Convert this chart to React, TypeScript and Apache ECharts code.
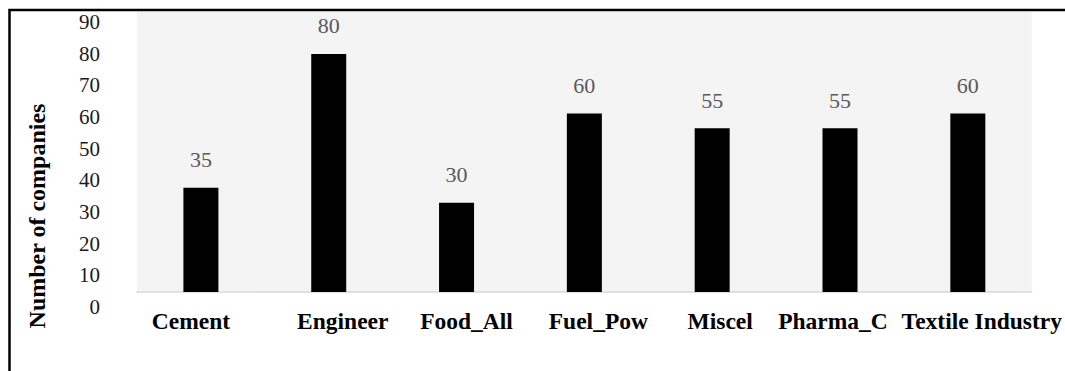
import React, { useEffect, useRef } from "react";
import * as echarts from "echarts";

// Number of companies per sector
const categories = ["Cement", "Engineer", "Food_All", "Fuel_Pow", "Miscel", "Pharma_C", "Textile Industry"];
const companies = [35, 80, 30, 60, 55, 55, 60];
const tickMin = 0;
const tickMax = 90;
const tickStep = 10;

// horizontal nudge (px) for each category label under its bar
const labelShift = [-10, 14, 10, 14, 8, -7, 14];

const SERIF = "Liberation Serif";

export default function App() {
  const ref = useRef<HTMLDivElement>(null);

  useEffect(() => {
    if (!ref.current) return;
    const chart = echarts.init(ref.current, undefined, { renderer: "svg" });

    const rich: Record<string, any> = {};
    labelShift.forEach((d, i) => {
      rich["s" + i] = {
        fontFamily: SERIF,
        fontWeight: "bold",
        fontSize: 23.5,
        color: "#000",
        padding: d >= 0 ? [0, 0, 0, 2 * d] : [0, -2 * d, 0, 0],
      };
    });

    chart.setOption({
      animation: false,
      backgroundColor: "#fff",
      textStyle: { fontFamily: SERIF },
      grid: [
        // plot area holding the bars
        {
          left: 137,
          top: 12,
          width: 895,
          height: 280,
          show: true,
          backgroundColor: "#f4f4f4",
          borderWidth: 0,
        },
        // value scale with its tick labels
        { left: 137, top: 22, width: 895, height: 285 },
      ],
      xAxis: [
        {
          type: "category",
          gridIndex: 0,
          data: categories,
          axisLine: { show: true, lineStyle: { color: "#d9d9d9", width: 1.5 } },
          axisTick: { show: false },
          axisLabel: {
            interval: 0,
            margin: 17,
            fontFamily: SERIF,
            formatter: (v: string, i: number) => `{s${i}|${v}}`,
            rich,
          },
        },
        { type: "value", gridIndex: 1, show: false, min: 0, max: 1 },
      ],
      yAxis: [
        {
          type: "value",
          gridIndex: 0,
          min: 0,
          max: 94.1,
          show: false,
          splitLine: { show: false },
        },
        {
          type: "value",
          gridIndex: 1,
          min: tickMin,
          max: tickMax,
          interval: tickStep,
          axisLine: { show: false },
          axisTick: { show: false },
          splitLine: { show: false },
          axisLabel: {
            margin: 37,
            fontFamily: SERIF,
            fontSize: 21,
            color: "#1a1a1a",
          },
        },
      ],
      series: [
        {
          type: "bar",
          xAxisIndex: 0,
          yAxisIndex: 0,
          data: companies,
          barWidth: 35,
          itemStyle: { color: "#000" },
          label: {
            show: true,
            position: "top",
            distance: 17,
            fontFamily: SERIF,
            fontSize: 22,
            color: "#595959",
          },
        },
      ],
      graphic: [
        {
          type: "text",
          x: 37,
          y: 216,
          rotation: Math.PI / 2,
          style: {
            text: "Number of companies",
            fontFamily: SERIF,
            fontWeight: "bold",
            fontSize: 24,
            fill: "#000",
            align: "center",
            verticalAlign: "middle",
          },
        },
        {
          type: "rect",
          shape: { x: 9.5, y: 10, width: 1200, height: 500 },
          style: { fill: "none", stroke: "#000", lineWidth: 2.5 },
          silent: true,
        },
      ],
    });

    return () => chart.dispose();
  }, []);

  return (
    <div
      ref={ref}
      style={{ position: "absolute", left: 0, top: 0, width: 1065, height: 371 }}
    />
  );
}
